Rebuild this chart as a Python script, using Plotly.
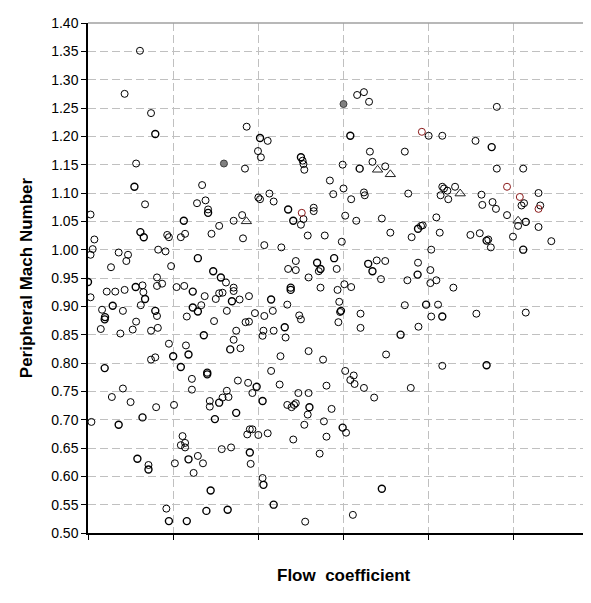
import plotly.graph_objects as go

# ---- data (flow coefficient in grid units, peripheral Mach number) ----
open_x = [0.61, 0.43, 0.74, 0.565, 1.34, 1.863, 1.843, 2.11, 1.996, 2.03, 2.52, 2.53, 2.54, 2.84, 2.99, 3.0, 2.88, 2.13, 2.0,
          3.16, 3.24, 3.30, 4.80, 4.0, 4.16, 4.55, 3.31, 3.72, 3.34, 3.49, 4.80, 5.11, 3.24, 3.76, 4.16, 4.18, 4.22, 4.31, 4.62, 5.29,
          0.67, 1.28, 1.38, 1.41, 1.54, 1.45, 1.71, 1.81, 1.82, 2.02, 2.18, 2.50, 2.53, 2.65, 2.65, 3.02, 0.03, 0.075, 0.055, 0.03,
          0.93, 0.95, 1.09, 1.14, 0.36, 0.47, 0.45, 0.824, 0.91, 0.27, 0.976, 2.07, 2.27, 2.58, 2.78, 2.98, 2.44, 2.35, 2.44, 2.71,
          2.92, 2.59, 2.73, 2.93, 3.01, 2.34, 2.17, 2.07, 2.48, 2.50, 1.96, 1.89, 1.85, 2.95, 2.96, 2.94, 0.03, 0.22, 0.32, 0.43,
          0.64, 0.65, 0.62, 0.81, 0.81, 0.87, 1.04, 1.13, 1.37, 1.62, 1.71, 1.71, 1.54, 1.58, 1.50, 1.78, 1.89, 1.33, 1.16, 1.48,
          1.63, 0.165, 0.41, 0.81, 0.565, 0.15, 0.38, 0.525, 0.74, 0.82, 1.74, 1.71, 1.79, 2.06, 2.05, 2.18, 2.32, 2.59, 2.26, 2.76,
          0.95, 1.15, 0.74, 0.79,
          3.09, 3.25, 4.14, 4.23, 4.63, 4.75, 4.79, 4.92, 5.09, 5.12, 5.31, 5.05, 5.29, 5.44, 5.98, 3.15, 3.45, 3.55, 3.91, 3.93,
          3.80, 4.09, 4.13, 4.03, 4.49, 4.60, 4.70, 4.73, 4.99, 3.39, 3.49, 3.44, 3.875, 3.75, 4.02, 4.09, 4.02, 4.29, 3.09, 3.20,
          3.20, 3.72, 4.11, 4.03, 3.88, 4.56, 5.14, 3.50, 4.16,
          3.02, 3.12, 3.08, 3.13, 3.24, 3.36, 3.79, 3.11,
          1.22, 1.22, 1.76, 1.88, 1.93, 2.15, 2.25, 2.80, 2.47, 2.59, 2.34, 2.39, 2.42, 2.44, 2.58, 2.86, 2.54, 2.77, 3.03, 2.41,
          2.80, 2.72, 0.41, 0.28, 0.50, 0.80, 1.01, 0.04, 1.43, 1.43, 1.58, 1.63, 1.65, 1.87, 1.90, 1.93, 2.0, 2.11, 1.11, 1.09,
          1.14, 1.14, 1.57, 1.68, 1.91, 0.71, 1.02, 1.29, 1.35, 1.24, 2.05, 0.92, 2.55]
open_y = [1.351, 1.275, 1.241, 1.152, 1.114, 1.217, 1.143, 1.192, 1.174, 1.163, 1.157, 1.151, 1.141, 1.122, 1.150, 1.108, 1.098, 1.099, 1.092,
          1.273, 1.278, 1.261, 1.252, 1.201, 1.201, 1.192, 1.173, 1.173, 1.155, 1.147, 1.143, 1.143, 1.101, 1.099, 1.111, 1.108, 1.104, 1.111, 1.097, 1.100,
          1.080, 1.082, 1.087, 1.071, 1.042, 1.028, 1.051, 1.061, 1.020, 1.089, 1.085, 1.044, 1.054, 1.074, 1.068, 1.060, 1.062, 1.018, 1.001, 0.991,
          1.026, 1.022, 1.022, 1.028, 0.995, 0.991, 0.980, 1.000, 0.997, 0.969, 0.971, 1.008, 1.004, 1.025, 1.025, 1.014, 0.980, 0.966, 0.964, 0.962,
          0.966, 0.951, 0.933, 0.929, 0.939, 0.903, 0.892, 0.883, 0.884, 0.877, 0.888, 0.873, 0.872, 0.908, 0.890, 0.872, 0.916, 0.926, 0.926, 0.929,
          0.937, 0.925, 0.902, 0.951, 0.936, 0.940, 0.934, 0.936, 0.918, 0.942, 0.933, 0.927, 0.923, 0.924, 0.913, 0.912, 0.918, 0.902, 0.882, 0.874,
          0.892, 0.894, 0.892, 0.883, 0.873, 0.860, 0.852, 0.859, 0.857, 0.862, 0.857, 0.841, 0.826, 0.857, 0.848, 0.857, 0.845, 0.821, 0.812, 0.806,
          0.834, 0.831, 0.806, 0.810,
          1.089, 1.096, 1.096, 1.089, 1.079, 1.084, 1.072, 1.061, 1.078, 1.082, 1.078, 1.042, 1.040, 1.015, 1.051, 1.051, 1.055, 1.030, 1.042, 1.043,
          1.022, 1.057, 1.030, 1.000, 1.026, 1.029, 1.018, 1.004, 1.023, 0.981, 0.980, 0.948, 0.977, 0.946, 0.964, 0.946, 0.941, 0.933, 0.934, 0.887,
          0.862, 0.902, 0.903, 0.882, 0.864, 0.887, 0.889, 0.815, 0.795,
          0.786, 0.778, 0.770, 0.763, 0.756, 0.739, 0.756, 0.532,
          0.772, 0.753, 0.769, 0.765, 0.747, 0.786, 0.762, 0.760, 0.747, 0.747, 0.726, 0.722, 0.726, 0.729, 0.709, 0.719, 0.691, 0.697, 0.677, 0.665,
          0.670, 0.640, 0.755, 0.740, 0.731, 0.722, 0.726, 0.696, 0.733, 0.723, 0.739, 0.751, 0.740, 0.674, 0.683, 0.683, 0.673, 0.676, 0.671, 0.655,
          0.659, 0.651, 0.648, 0.651, 0.622, 0.620, 0.623, 0.636, 0.623, 0.606, 0.597, 0.543, 0.520]

# points drawn with a heavier outline (coincident measurements)
bold_x = [0.79, 0.545, 2.02, 2.50, 3.08, 4.74, 3.19, 1.41, 1.125, 2.35, 2.41, 0.615, 0.655, 1.29, 2.69, 2.73, 2.89, 2.38, 2.38,
          2.15, 2.97, 0.0, 0.56, 0.67, 1.23, 1.47, 1.56, 1.69, 1.23, 1.29, 0.29, 0.20, 0.196, 0.79, 1.36, 1.67, 2.31, 1.18, 1.00,
          5.14, 3.875, 4.68, 5.11, 3.29, 3.34, 3.87, 3.97, 4.16, 3.67, 4.68, 3.45,
          0.196, 1.09, 1.40, 1.40, 1.98, 2.05, 2.60, 2.99, 0.36, 0.64, 1.54, 1.74, 1.49, 1.90, 0.58, 0.71, 1.18, 1.44, 2.06, 2.18,
          1.39, 1.64, 0.95, 1.16]
bold_y = [1.204, 1.111, 1.197, 1.163, 1.201, 1.181, 1.143, 1.065, 1.051, 1.071, 1.051, 1.031, 1.022, 0.985, 0.977, 0.966, 0.985, 0.933, 0.929,
          0.912, 0.892, 0.943, 0.934, 0.913, 0.926, 0.962, 0.951, 0.909, 0.898, 0.891, 0.901, 0.881, 0.877, 0.892, 0.849, 0.824, 0.863, 0.815, 0.812,
          1.049, 1.037, 1.016, 1.000, 0.975, 0.962, 0.956, 0.903, 0.882, 0.850, 0.796, 0.578,
          0.791, 0.793, 0.783, 0.780, 0.758, 0.733, 0.722, 0.686, 0.691, 0.704, 0.730, 0.712, 0.701, 0.642, 0.631, 0.612, 0.630, 0.575, 0.585, 0.550,
          0.539, 0.541, 0.521, 0.521]

red_x = [3.92, 4.92, 5.07, 5.29, 2.51]
red_y = [1.208, 1.111, 1.093, 1.072, 1.065]

gray_x = [1.596, 3.0]
gray_y = [1.152, 1.257]

tri_x = [1.86, 3.40, 3.55, 4.37, 5.05]
tri_y = [1.050, 1.141, 1.133, 1.099, 1.051]

y_ticks = [round(0.50 + 0.05 * i, 2) for i in range(19)]
x_ticks = [0, 1, 2, 3, 4, 5, 6]

FONT = "Liberation Sans, Arial, sans-serif"

fig = go.Figure()
fig.add_trace(go.Scatter(x=open_x, y=open_y, mode="markers",
                         marker=dict(symbol="circle-open", size=7, color="#000000", line=dict(width=1))))
fig.add_trace(go.Scatter(x=bold_x, y=bold_y, mode="markers",
                         marker=dict(symbol="circle-open", size=7, color="#000000", line=dict(width=1.4))))
fig.add_trace(go.Scatter(x=red_x, y=red_y, mode="markers",
                         marker=dict(symbol="circle-open", size=7, color="#8b1a1a", line=dict(width=1))))
fig.add_trace(go.Scatter(x=gray_x, y=gray_y, mode="markers",
                         marker=dict(symbol="circle", size=7, color="#808080", line=dict(width=1, color="#404040"))))
fig.add_trace(go.Scatter(x=tri_x, y=tri_y, mode="markers",
                         marker=dict(symbol="triangle-up-open", size=9, color="#202020", line=dict(width=1))))

fig.update_layout(
    width=591, height=603,
    margin=dict(l=80, r=0, t=15, b=78),
    paper_bgcolor="white", plot_bgcolor="white",
    showlegend=False,
    font=dict(family=FONT, size=14, color="#000000"),
    xaxis=dict(range=[0, 6], tickvals=x_ticks, showticklabels=False,
               showgrid=True, gridcolor="#c0c0c0", griddash="8px,4px", gridwidth=1,
               showline=True, linecolor="#000000", linewidth=1.5,
               ticks="outside", ticklen=5, tickcolor="#000000", zeroline=False),
    yaxis=dict(range=[0.50, 1.40], tickvals=y_ticks, tickformat=".2f",
               showgrid=True, gridcolor="#c0c0c0", griddash="8px,4px", gridwidth=1,
               showline=True, linecolor="#000000", linewidth=1.5,
               ticks="outside", ticklen=5, tickcolor="#000000", zeroline=False,
               tickfont=dict(size=14)),
    shapes=[dict(type="line", xref="paper", yref="paper", x0=0, x1=1, y0=1, y1=1,
                 line=dict(color="#a0a0a0", width=1.5))],
    annotations=[
        dict(text="<b>Peripheral Mach Number</b>", xref="paper", yref="paper",
             x=-0.121, y=0.5, xanchor="center", yanchor="middle", textangle=-90,
             showarrow=False, font=dict(size=17)),
        dict(text="<b>Flow  coefficient</b>", xref="paper", yref="paper",
             x=0.5, y=-0.084, xanchor="center", yanchor="middle",
             showarrow=False, font=dict(size=17)),
    ],
)

fig.write_html("out.html")
